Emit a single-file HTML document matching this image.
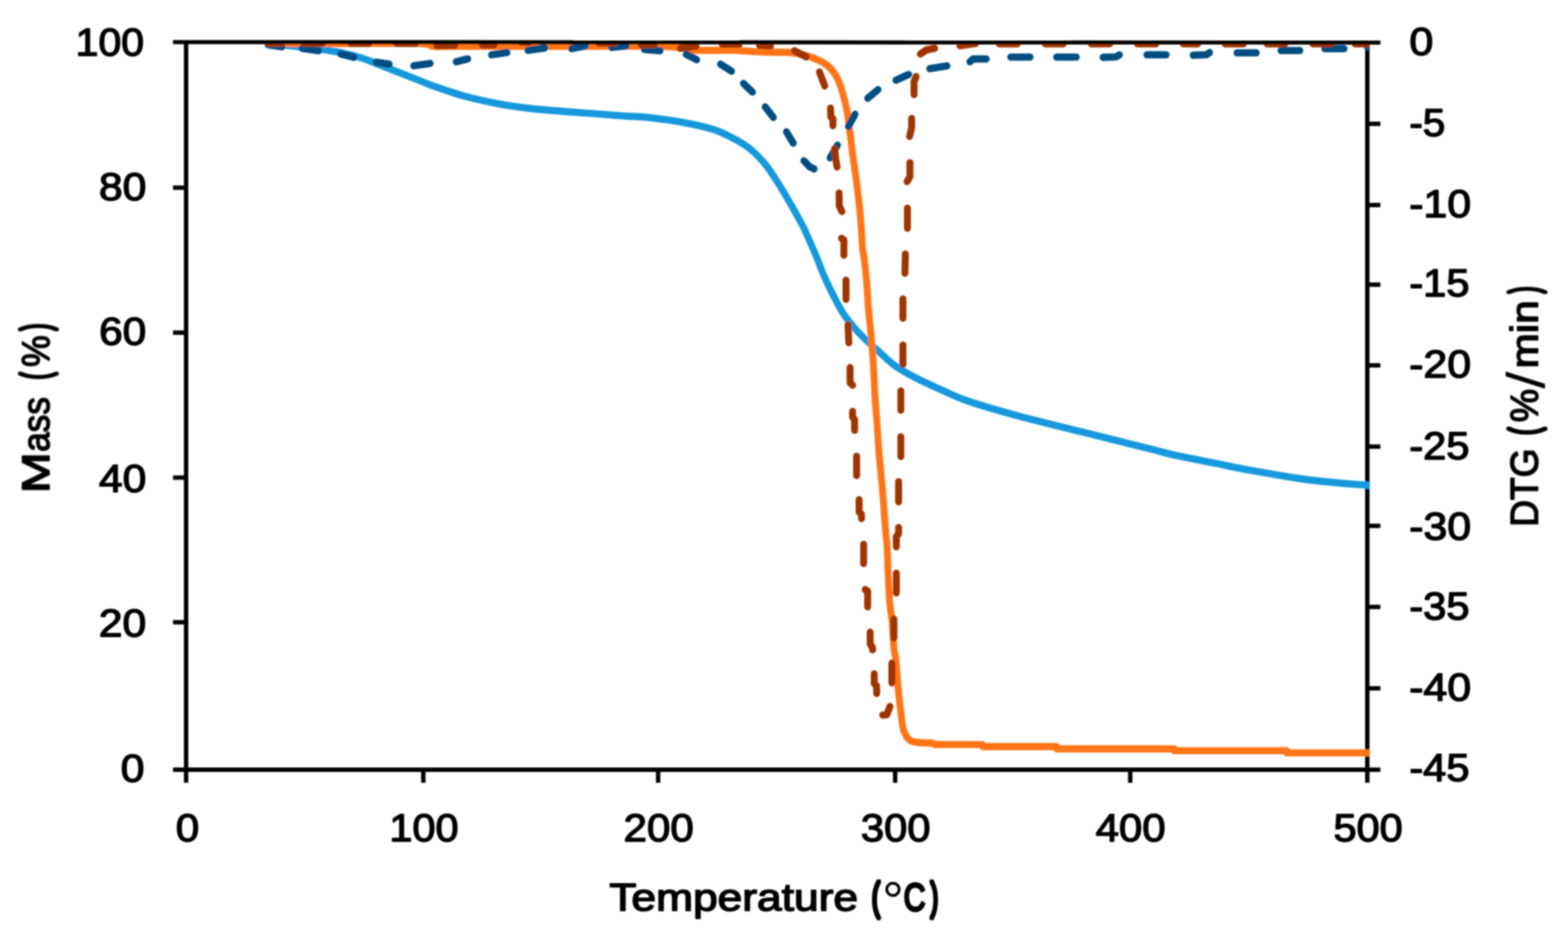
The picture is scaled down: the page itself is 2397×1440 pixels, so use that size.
<!DOCTYPE html>
<html lang="en"><head><meta charset="utf-8"><title>TGA / DTG curves</title>
<style>
html,body{margin:0;padding:0;background:#fff;}
body{width:2397px;height:1440px;overflow:hidden;}
svg{display:block;}
text{font-family:"Liberation Sans",sans-serif;fill:#000;}
.tk{font-size:60px;font-weight:normal;stroke:#000;stroke-width:2.0;stroke-linejoin:round;}
.ti{font-size:60px;font-weight:normal;stroke:#000;stroke-width:2.2;stroke-linejoin:round;}
.ax{stroke:#000;stroke-width:6.7;fill:none;stroke-linecap:butt;}
.s{fill:none;stroke-width:10.4;stroke-linejoin:round;stroke-linecap:butt;}
.d{fill:none;stroke-width:10.6;stroke-linejoin:round;stroke-linecap:round;}
</style></head><body>
<svg width="2397" height="1440" viewBox="0 0 2397 1440">
<defs><clipPath id="plot"><rect x="284.5" y="64.5" width="1809.3" height="1112.1"/></clipPath>
<filter id="soft" x="-5%" y="-5%" width="110%" height="110%"><feGaussianBlur stdDeviation="1.1"/></filter>
</defs>
<rect width="2397" height="1440" fill="#fff"/>
<g filter="url(#soft)">
<g class="ax">
<path d="M264.5 1176.6 H2110.2"/>
<path d="M284.5 64.3 V1196.6"/>
<path d="M2090.2 65.1 V1196.6"/>
<path d="M264.5 286.9 H284.5"/>
<path d="M264.5 508.5 H284.5"/>
<path d="M264.5 730.1 H284.5"/>
<path d="M264.5 951.2 H284.5"/>
<path d="M2090.2 189.3 H2110.2"/>
<path d="M2090.2 313.4 H2110.2"/>
<path d="M2090.2 435.1 H2110.2"/>
<path d="M2090.2 558.5 H2110.2"/>
<path d="M2090.2 682.7 H2110.2"/>
<path d="M2090.2 803.9 H2110.2"/>
<path d="M2090.2 927.8 H2110.2"/>
<path d="M2090.2 1052.2 H2110.2"/>
<path d="M647.1 1176.6 V1196.6"/>
<path d="M1006.1 1176.6 V1196.6"/>
<path d="M1368.4 1176.6 V1196.6"/>
<path d="M1727.8 1176.6 V1196.6"/>
</g>
<g clip-path="url(#plot)">
<g transform="scale(1 1.05)">
<path class="s" stroke="#1499DC" d="M405.0 63.33 C410.8 63.81 429.2 65.16 440.0 66.19 C450.8 67.22 459.7 68.33 470.0 69.52 C480.3 70.71 492.0 71.83 502.0 73.33 C512.0 74.84 521.2 76.60 530.0 78.57 C538.8 80.54 546.7 82.52 555.0 85.14 C563.3 87.76 571.7 91.21 580.0 94.29 C588.3 97.37 595.0 99.89 605.0 103.62 C615.0 107.35 630.8 113.19 640.0 116.67 C649.2 120.14 653.3 122.10 660.0 124.48 C666.7 126.86 671.7 128.37 680.0 130.95 C688.3 133.54 696.7 136.70 710.0 140.00 C723.3 143.30 743.3 147.78 760.0 150.76 C776.7 153.75 793.3 156.02 810.0 157.90 C826.7 159.79 843.3 160.81 860.0 162.10 C876.7 163.38 893.3 164.43 910.0 165.62 C926.7 166.81 946.7 168.35 960.0 169.24 C973.3 170.13 976.7 169.57 990.0 170.95 C1003.3 172.33 1023.3 174.63 1040.0 177.52 C1056.7 180.41 1076.7 184.38 1090.0 188.29 C1103.3 192.19 1110.8 196.41 1120.0 200.95 C1129.2 205.49 1136.7 209.13 1145.0 215.52 C1153.3 221.92 1162.7 231.00 1170.0 239.33 C1177.3 247.67 1182.5 256.19 1188.8 265.52 C1195.1 274.86 1201.3 285.00 1207.6 295.33 C1213.9 305.67 1222.0 319.60 1226.4 327.52 C1230.8 335.44 1230.5 335.33 1234.0 342.86 C1237.5 350.38 1243.2 362.73 1247.6 372.67 C1251.9 382.60 1255.5 392.54 1260.1 402.48 C1264.7 412.41 1270.3 423.35 1275.1 432.29 C1279.9 441.22 1283.9 448.75 1288.9 456.10 C1293.9 463.44 1300.0 470.49 1305.2 476.38 C1310.4 482.27 1313.9 485.75 1320.0 491.43 C1326.1 497.11 1334.0 503.68 1342.0 510.48 C1350.0 517.27 1359.2 526.19 1367.7 532.19 C1376.2 538.19 1384.5 542.11 1392.8 546.48 C1401.1 550.84 1409.5 554.60 1417.8 558.38 C1426.1 562.16 1432.4 564.86 1442.8 569.14 C1453.2 573.43 1460.5 577.87 1480.0 584.10 C1499.5 590.32 1530.0 598.78 1560.1 606.48 C1590.1 614.17 1626.9 622.35 1660.3 630.29 C1693.7 638.22 1737.1 648.56 1760.4 654.10 C1783.7 659.63 1783.4 660.08 1800.0 663.52 C1816.6 666.97 1843.3 671.57 1860.0 674.76 C1876.7 677.95 1876.7 678.70 1900.1 682.67 C1923.5 686.63 1967.9 694.56 2000.2 698.57 C2032.5 702.59 2078.4 705.40 2094.0 706.76"/>
<path class="s" stroke="#FF7416" d="M405.0 63.33 C424.2 63.33 480.8 63.33 520.0 63.33 C559.2 63.33 616.2 62.63 640.0 63.33 C663.8 64.03 653.0 66.83 663.0 67.52 C673.0 68.22 668.8 67.52 700.0 67.52 C731.2 67.52 797.5 67.52 850.0 67.52 C902.5 67.52 980.0 66.60 1015.0 67.52 C1050.0 68.44 1042.5 72.10 1060.0 73.05 C1077.5 74.00 1102.3 72.78 1120.0 73.24 C1137.7 73.70 1151.4 75.27 1166.0 75.81 C1180.6 76.35 1196.5 75.62 1207.6 76.48 C1218.7 77.33 1226.3 79.51 1232.6 80.95 C1238.9 82.40 1241.0 83.54 1245.2 85.14 C1249.4 86.75 1253.5 88.08 1257.7 90.57 C1261.9 93.06 1266.7 96.52 1270.2 100.10 C1273.8 103.67 1276.5 107.63 1279.0 112.00 C1281.5 116.37 1283.3 121.13 1285.2 126.29 C1287.1 131.44 1288.7 137.78 1290.2 142.95 C1291.7 148.13 1293.0 152.56 1294.0 157.33 C1295.0 162.11 1295.7 166.06 1296.5 171.62 C1297.3 177.17 1298.2 184.35 1299.0 190.67 C1299.8 196.98 1300.7 203.21 1301.5 209.52 C1302.3 215.84 1302.8 219.83 1304.0 228.57 C1305.2 237.32 1307.4 250.48 1309.0 262.00 C1310.6 273.52 1312.2 285.79 1313.5 297.71 C1314.8 309.63 1316.0 322.83 1316.8 333.52 C1317.6 344.22 1317.8 354.40 1318.6 361.90 C1319.4 369.41 1320.3 369.83 1321.4 378.57 C1322.5 387.32 1324.2 402.46 1325.2 414.38 C1326.2 426.30 1326.7 438.17 1327.7 450.10 C1328.7 462.02 1330.5 476.79 1331.4 485.90 C1332.3 495.02 1332.4 497.25 1333.0 504.76 C1333.6 512.27 1334.4 518.63 1335.2 530.95 C1336.0 543.27 1336.7 562.76 1337.7 578.67 C1338.8 594.57 1340.5 613.30 1341.5 626.38 C1342.5 639.46 1342.7 647.05 1343.5 657.14 C1344.3 667.24 1345.4 675.43 1346.5 686.95 C1347.6 698.48 1349.1 712.97 1350.2 726.29 C1351.3 739.60 1352.2 754.14 1353.3 766.86 C1354.3 779.57 1355.8 791.10 1356.5 802.57 C1357.2 814.05 1357.1 823.22 1357.7 835.71 C1358.3 848.21 1359.2 865.60 1360.2 877.52 C1361.2 889.44 1363.0 896.32 1364.0 907.24 C1365.0 918.16 1365.7 934.73 1366.5 943.05 C1367.3 951.37 1368.3 951.62 1369.0 957.14 C1369.7 962.67 1370.2 968.05 1370.9 976.19 C1371.6 984.33 1372.4 996.06 1373.4 1006.00 C1374.4 1015.94 1375.9 1026.87 1377.1 1035.81 C1378.2 1044.75 1378.9 1053.65 1380.3 1059.62 C1381.7 1065.59 1383.2 1068.43 1385.3 1071.62 C1387.4 1074.81 1389.5 1077.17 1392.8 1078.76 C1396.1 1080.35 1399.9 1080.65 1405.3 1081.14 C1410.7 1081.63 1422.0 1081.62 1425.3 1081.71 L1428.4 1083.90 L1501.8 1083.90 L1501.8 1086.86 L1615.3 1086.86 L1615.3 1090.19 L1795.0 1090.19 L1795.0 1092.95 L1967.0 1092.95 L1967.0 1096.10 L2094.0 1096.10"/>
<g class="d" stroke="#004E82">
<path d="M410.0 65.24 L431.0 68.10"/>
<path d="M462.0 70.48 L487.0 73.81"/>
<path d="M521.0 78.57 L541.0 83.33"/>
<path d="M575.0 90.48 L595.0 93.33"/>
<path d="M632.5 95.81 L657.5 92.38"/>
<path d="M697.5 89.90 L715.0 85.71"/>
<path d="M751.4 79.81 L775.0 76.48"/>
<path d="M807.0 73.24 L832.7 69.71"/>
<path d="M874.0 70.86 L895.0 66.67"/>
<path d="M935.0 69.05 L957.0 66.67"/>
<path d="M985.0 72.00 L1009.0 73.81"/>
<path d="M1049.0 79.14 L1065.0 86.95"/>
<path d="M1101.5 93.52 L1118.3 103.62"/>
<path d="M1136.5 121.52 L1150.3 134.10"/>
<path d="M1169.7 155.52 L1182.2 170.95"/>
<path d="M1202.2 191.90 L1212.6 208.38"/>
<path d="M1228.9 234.00 L1237.7 242.86 L1244.5 245.90"/>
<path d="M1269.0 229.81 L1280.2 211.33"/>
<path d="M1297.1 184.10 L1307.1 166.19"/>
<path d="M1326.5 142.95 L1342.2 130.48"/>
<path d="M1369.7 116.76 L1389.1 108.38"/>
<path d="M1421.3 100.10 L1447.6 95.90"/>
<path d="M1482.6 89.90 L1487.6 85.81 L1507.7 85.81"/>
<path d="M1545.2 83.14 L1574.6 83.14"/>
<path d="M1615.3 83.14 L1645.3 83.14"/>
<path d="M1686.3 83.43 L1706.3 82.86 L1711.3 79.81"/>
<path d="M1753.3 79.81 L1782.7 79.81"/>
<path d="M1824.0 80.38 L1844.0 79.81 L1849.0 76.48"/>
<path d="M1891.0 76.86 L1920.4 76.86"/>
<path d="M1958.2 73.62 L1987.0 73.62"/>
<path d="M2025.2 70.86 L2054.6 70.86"/>
<path d="M2090.5 68.19 L2094.0 68.19"/>
</g>
<g class="d" stroke="#9E3600">
<path d="M410.0 63.14 L430.0 63.14"/>
<path d="M465.0 63.14 L492.6 63.14"/>
<path d="M536.4 63.14 L564.0 63.14"/>
<path d="M606.5 63.14 L635.3 63.14"/>
<path d="M667.8 66.10 L695.0 66.10"/>
<path d="M737.6 65.52 L755.1 65.52"/>
<path d="M796.4 61.33 L809.0 61.33"/>
<path d="M845.2 59.52 L872.8 59.52"/>
<path d="M915.3 62.57 L940.4 62.57"/>
<path d="M980.0 64.95 L1000.0 64.95"/>
<path d="M1040.0 70.29 L1064.0 67.24"/>
<path d="M1104.0 64.29 L1130.0 64.29"/>
<path d="M1161.0 65.71 L1178.0 66.86"/>
<path d="M1214.5 73.81 L1232.6 82.76"/>
<path d="M1252.7 104.86 L1260.8 125.14"/>
<path d="M1269.6 157.33 L1270.2 170.48 L1273.3 172.86 L1273.3 182.95"/>
<path d="M1275.8 216.67 L1277.7 232.19 L1279.6 242.95"/>
<path d="M1282.7 281.05 L1283.0 300.00 L1287.1 307.90"/>
<path d="M1286.4 347.05 L1290.1 349.52 L1290.1 371.43"/>
<path d="M1293.3 407.81 L1293.3 435.81"/>
<path d="M1296.4 472.76 L1297.6 499.05"/>
<path d="M1299.5 535.14 L1299.5 557.14 L1303.3 560.76"/>
<path d="M1303.3 598.95 L1303.3 607.24 L1306.4 610.86 L1306.4 626.38"/>
<path d="M1309.5 664.29 L1309.5 692.29"/>
<path d="M1313.3 727.52 L1313.3 745.33 L1317.0 748.95 L1317.0 754.86"/>
<path d="M1320.2 792.38 L1320.2 820.29"/>
<path d="M1322.7 858.38 L1326.4 860.76 L1326.4 883.43"/>
<path d="M1330.2 920.38 L1330.2 937.14 L1333.9 943.05 L1333.9 946.00"/>
<path d="M1336.4 980.95 L1336.4 995.24 L1340.2 998.86 L1340.2 1009.52"/>
<path d="M1349.5 1040.95 L1355.5 1040.48 L1359.5 1030.95 L1360.5 1028.57"/>
<path d="M1363.4 994.10 L1363.4 965.52"/>
<path d="M1366.5 928.76 L1366.5 901.33"/>
<path d="M1370.2 863.14 L1370.2 834.57"/>
<path d="M1370.2 796.00 L1370.2 780.95 L1373.7 777.14 L1373.7 768.00"/>
<path d="M1373.7 730.48 L1373.7 701.24"/>
<path d="M1377.1 664.48 L1377.1 635.90"/>
<path d="M1377.1 597.14 L1377.1 569.14"/>
<path d="M1380.3 530.38 L1380.3 502.38"/>
<path d="M1380.3 463.24 L1380.3 435.24"/>
<path d="M1383.4 397.71 L1384.0 369.71"/>
<path d="M1387.2 332.29 L1387.2 303.14"/>
<path d="M1386.6 264.38 L1391.0 257.14 L1391.0 236.95"/>
<path d="M1390.5 198.57 L1393.6 185.71 L1393.6 172.38"/>
<path d="M1397.3 137.62 L1397.3 119.05 L1400.5 111.43"/>
<path d="M1406.9 78.67 L1416.3 72.67 L1428.8 70.29"/>
<path d="M1467.6 66.67 L1480.0 64.76 L1491.4 63.33"/>
<path d="M1527.7 63.71 L1555.2 63.71"/>
<path d="M1597.8 63.71 L1625.3 63.71"/>
<path d="M1668.2 63.71 L1696.3 63.71"/>
<path d="M1738.9 63.71 L1767.0 63.71"/>
<path d="M1809.0 63.71 L1830.9 63.71"/>
<path d="M1872.8 63.71 L1901.0 63.71"/>
<path d="M1936.9 63.71 L1964.5 63.71"/>
<path d="M2007.0 63.71 L2035.2 63.71"/>
<path d="M2071.5 63.71 L2094.0 63.71"/>
</g>
</g>
</g>
<path class="ax" style="stroke-width:6.2" d="M264.5 64.30 L2110.2 65.10"/>
<g class="tk">
<text y="84.8"><tspan x="115.5" font-size="60px" textLength="104.7" lengthAdjust="spacingAndGlyphs">100</tspan></text>
<text y="305.7"><tspan x="151.2" font-size="60px" textLength="72.5" lengthAdjust="spacingAndGlyphs">80</tspan></text>
<text y="527.2"><tspan x="151.6" font-size="60px" textLength="72.0" lengthAdjust="spacingAndGlyphs">60</tspan></text>
<text y="751.7"><tspan x="151.3" font-size="60px" textLength="72.3" lengthAdjust="spacingAndGlyphs">40</tspan></text>
<text y="972.9"><tspan x="151.1" font-size="60px" textLength="72.5" lengthAdjust="spacingAndGlyphs">20</tspan></text>
<text y="1194.9"><tspan x="184.5" font-size="60px" textLength="36.3" lengthAdjust="spacingAndGlyphs">0</tspan></text>
<text y="83.7"><tspan x="2154.6" font-size="60px" textLength="36.6" lengthAdjust="spacingAndGlyphs">0</tspan></text>
<text y="207.6"><tspan x="2154.5" font-size="60px" textLength="54.9" lengthAdjust="spacingAndGlyphs">-5</tspan></text>
<text y="332.0"><tspan x="2154.3" font-size="60px" textLength="94.5" lengthAdjust="spacingAndGlyphs">-10</tspan></text>
<text y="452.8"><tspan x="2154.4" font-size="60px" textLength="92.0" lengthAdjust="spacingAndGlyphs">-15</tspan></text>
<text y="577.1"><tspan x="2154.3" font-size="60px" textLength="94.5" lengthAdjust="spacingAndGlyphs">-20</tspan></text>
<text y="701.6"><tspan x="2154.4" font-size="60px" textLength="92.0" lengthAdjust="spacingAndGlyphs">-25</tspan></text>
<text y="825.4"><tspan x="2154.3" font-size="60px" textLength="94.5" lengthAdjust="spacingAndGlyphs">-30</tspan></text>
<text y="946.8"><tspan x="2154.4" font-size="60px" textLength="92.0" lengthAdjust="spacingAndGlyphs">-35</tspan></text>
<text y="1070.5"><tspan x="2154.3" font-size="60px" textLength="94.5" lengthAdjust="spacingAndGlyphs">-40</tspan></text>
<text y="1194.4"><tspan x="2154.4" font-size="60px" textLength="92.0" lengthAdjust="spacingAndGlyphs">-45</tspan></text>
<text y="1286.0"><tspan x="268.8" font-size="60px" textLength="35.8" lengthAdjust="spacingAndGlyphs">0</tspan></text>
<text y="1286.0"><tspan x="595.3" font-size="60px" textLength="105.7" lengthAdjust="spacingAndGlyphs">100</tspan></text>
<text y="1286.0"><tspan x="953.2" font-size="60px" textLength="107.2" lengthAdjust="spacingAndGlyphs">200</tspan></text>
<text y="1286.0"><tspan x="1316.0" font-size="60px" textLength="106.4" lengthAdjust="spacingAndGlyphs">300</tspan></text>
<text y="1286.0"><tspan x="1675.0" font-size="60px" textLength="106.8" lengthAdjust="spacingAndGlyphs">400</tspan></text>
<text y="1286.0"><tspan x="2038.5" font-size="60px" textLength="105.9" lengthAdjust="spacingAndGlyphs">500</tspan></text>
</g>
<g class="ti">
<text transform="translate(75.2 749.4) rotate(-90)"><tspan x="-4.6" y="0.0" font-size="60px" textLength="62.6" lengthAdjust="spacingAndGlyphs">M</tspan><tspan x="58.7" y="0.0" font-size="60px" textLength="83.6" lengthAdjust="spacingAndGlyphs">ass</tspan> <tspan x="169.9" y="-1.3" font-size="59.7px" textLength="9.7" lengthAdjust="spacingAndGlyphs" stroke-width="7.5">(</tspan><tspan x="188.4" y="0.0" font-size="60px" textLength="48.3" lengthAdjust="spacingAndGlyphs">%</tspan><tspan x="244.5" y="-1.3" font-size="59.7px" textLength="9.7" lengthAdjust="spacingAndGlyphs" stroke-width="7.5">)</tspan></text>
<text transform="translate(2350.7 802.2) rotate(-90)"><tspan x="-3.1" y="0.0" font-size="60px" textLength="119.7" lengthAdjust="spacingAndGlyphs">DTG</tspan> <tspan x="137.7" y="-1.3" font-size="59.7px" textLength="10.6" lengthAdjust="spacingAndGlyphs" stroke-width="7.5">(</tspan><tspan x="156.7" y="0.0" font-size="60px" textLength="50.9" lengthAdjust="spacingAndGlyphs">%</tspan><tspan x="208.1" y="10.0" font-size="81px" textLength="26.3" lengthAdjust="spacingAndGlyphs" stroke-width="0.01">/</tspan><tspan x="239.1" y="0.0" font-size="60px" textLength="104.0" lengthAdjust="spacingAndGlyphs">min</tspan><tspan x="354.3" y="-1.3" font-size="59.7px" textLength="9.5" lengthAdjust="spacingAndGlyphs" stroke-width="7.5">)</tspan></text>
<text><tspan x="931.4" y="1392.4" font-size="60px" textLength="380.4" lengthAdjust="spacingAndGlyphs">Temperature</tspan> <tspan x="1333.0" y="1391.1" font-size="59.7px" textLength="11.9" lengthAdjust="spacingAndGlyphs" stroke-width="7.5">(</tspan><tspan x="1348.4" y="1404.6" font-size="82px" textLength="33.1" lengthAdjust="spacingAndGlyphs" stroke-width="0.01">°</tspan><tspan x="1381.6" y="1392.4" font-size="60px" textLength="33.2" lengthAdjust="spacingAndGlyphs" stroke-width="4.2">C</tspan><tspan x="1422.7" y="1391.1" font-size="59.7px" textLength="11.2" lengthAdjust="spacingAndGlyphs" stroke-width="7.5">)</tspan></text>
</g>
</g>
</svg>
</body></html>
